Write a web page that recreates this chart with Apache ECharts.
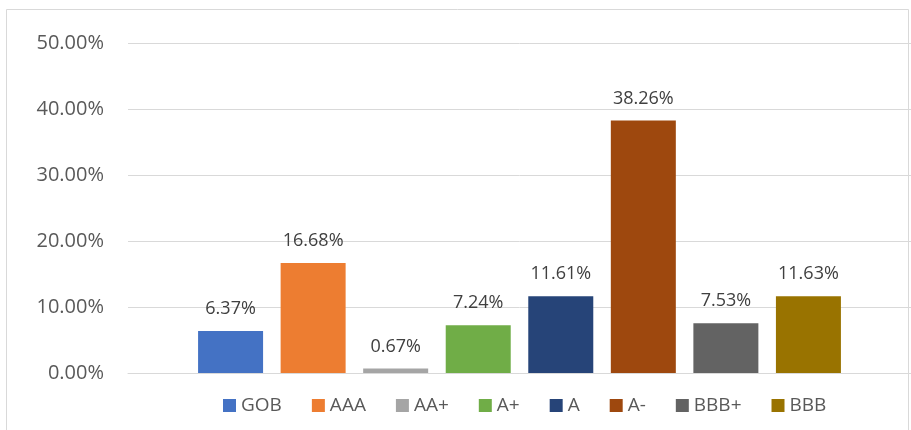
<!DOCTYPE html>
<html>
<head>
<meta charset="utf-8">
<script src="https://cdn.jsdelivr.net/npm/echarts@6/dist/echarts.min.js"></script>
<style>html,body{margin:0;padding:0;background:#fff;}#c{width:911px;height:430px;}</style>
</head>
<body>
<div id="c"></div>
<script>
const categories = ['GOB', 'AAA', 'AA+', 'A+', 'A', 'A-', 'BBB+', 'BBB'];
const values = [6.37, 16.68, 0.67, 7.24, 11.61, 38.26, 7.53, 11.63];
const colors = ['#4472C4', '#ED7D31', '#A5A5A5', '#70AD47', '#264478', '#9E480E', '#636363', '#997300'];
const yTicks = { min: 0, max: 50, interval: 10 };

const FONT = '"Open Sans", "Noto Sans", sans-serif';
const chart = echarts.init(document.getElementById('c'));
const series = categories.map((name, i) => ({
  name: name,
  type: 'bar',
  data: [values[i]],
  barWidth: 65,
  barGap: '27%',
  itemStyle: { color: colors[i] },
  label: {
    show: true,
    position: 'top',
    distance: 13,
    color: '#404040',
    fontSize: 18,
    fontFamily: FONT,
    formatter: p => p.value.toFixed(2) + '%'
  }
}));
chart.setOption({
  animation: false,
  backgroundColor: '#fff',
  graphic: [{
    type: 'rect',
    shape: { x: 6.5, y: 9.5, width: 902, height: 440 },
    style: { fill: 'none', stroke: '#d9d9d9', lineWidth: 1 },
    silent: true
  }],
  grid: { left: 128, right: 0, top: 43, bottom: 57, containLabel: false },
  legend: {
    data: categories,
    left: 223,
    top: 396,
    padding: 0,
    itemWidth: 13,
    itemHeight: 13,
    itemGap: 30,
    icon: 'rect',
    textStyle: { color: '#595959', fontSize: 19, fontFamily: FONT }
  },
  xAxis: {
    type: 'category',
    data: [''],
    axisLine: { show: true, lineStyle: { color: '#d9d9d9', width: 1 } },
    axisTick: { show: false },
    axisLabel: { show: false }
  },
  yAxis: {
    type: 'value',
    min: yTicks.min,
    max: yTicks.max,
    interval: yTicks.interval,
    axisLine: { show: false },
    axisTick: { show: false },
    splitLine: { lineStyle: { color: '#d9d9d9', width: 1 } },
    axisLabel: {
      margin: 24,
      color: '#595959',
      fontSize: 20,
      fontFamily: FONT,
      formatter: v => v.toFixed(2) + '%'
    }
  },
  series: series
});
</script>
</body>
</html>
